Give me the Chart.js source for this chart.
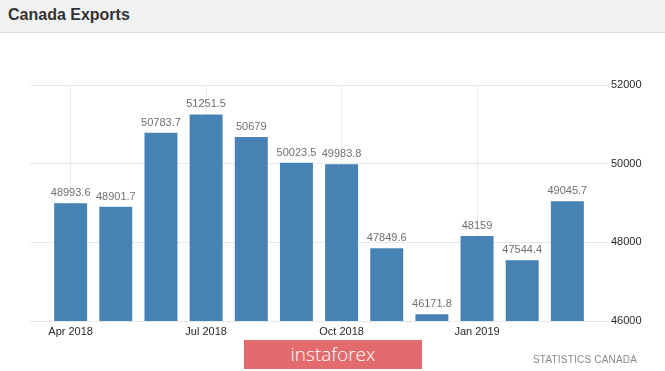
<!DOCTYPE html>
<html>
<head>
<meta charset="utf-8">
<script src="https://cdn.jsdelivr.net/npm/chart.js@4.4.0/dist/chart.umd.min.js"></script>
<style>
  html, body { margin: 0; padding: 0; background: #fff; }
  #wrap { position: relative; width: 665px; height: 371px; overflow: hidden; font-family: "Liberation Sans", Arial, sans-serif; }
  #header {
    position: absolute; left: 0; top: 0; width: 665px; height: 32px;
    background: #f2f2f2; border-bottom: 1px solid #dcdcdc; z-index: 2;
  }
  #header h1 {
    margin: 0; position: absolute; left: 8px; top: 6px;
    font-size: 16px; font-weight: bold; color: #333;
  }
  #chart { position: absolute; left: 0; top: 0; }
  #source {
    position: absolute; left: 533px; top: 354px; font-size: 10px; color: #888; letter-spacing: 0.2px;
  }
  #brand {
    position: absolute; left: 244px; top: 340px; width: 178px; height: 29px;
    background: #e36b6e; color: #fff; text-align: center;
    font-family: "Open Sans", sans-serif; font-weight: 300; font-size: 19px; line-height: 28px; z-index: 2;
  }
</style>
</head>
<body>
<div id="wrap">
  <div id="header"><h1>Canada Exports</h1></div>
  <canvas id="chart" width="665" height="371"></canvas>
  <div id="source">STATISTICS CANADA</div>
  <div id="brand">instaforex</div>
</div>
<script>
const months = ["Apr 2018", "May 2018", "Jun 2018", "Jul 2018", "Aug 2018", "Sep 2018",
  "Oct 2018", "Nov 2018", "Dec 2018", "Jan 2019", "Feb 2019", "Mar 2019"];
const exportsValues = [48993.6, 48901.7, 50783.7, 51251.5, 50679, 50023.5,
  49983.8, 47849.6, 46171.8, 48159, 47544.4, 49045.7];
const tickMonths = ["Apr 2018", "Jul 2018", "Oct 2018", "Jan 2019"];
const yTicks = [46000, 48000, 50000, 52000];

// value labels above each bar
const valueLabels = {
  id: "valueLabels",
  afterDatasetsDraw(chart) {
    const ctx = chart.ctx;
    const meta = chart.getDatasetMeta(0);
    ctx.save();
    ctx.font = "11px 'Liberation Sans', Arial, sans-serif";
    ctx.fillStyle = "#707070";
    ctx.textAlign = "center";
    ctx.textBaseline = "middle";
    meta.data.forEach((bar, i) => {
      ctx.fillText(String(exportsValues[i]), bar.x, bar.y - 10);
    });
    ctx.restore();
  }
};

new Chart(document.getElementById("chart"), {
  type: "bar",
  data: {
    datasets: [{
      data: exportsValues.map((v, i) => ({ x: i, y: v })),
      backgroundColor: "#4682b4",
      borderWidth: 0,
      barPercentage: 0.73,
      categoryPercentage: 1
    }]
  },
  options: {
    responsive: false,
    animation: false,
    layout: { padding: { left: 30, top: 85, right: 0, bottom: 0 } },
    plugins: { legend: { display: false }, tooltip: { enabled: false } },
    scales: {
      x: {
        type: "linear",
        offset: false,
        min: -0.9,
        max: 11.9,
        afterBuildTicks: (scale) => {
          scale.ticks = tickMonths.map((m) => ({ value: months.indexOf(m) }));
        },
        afterFit: (scale) => { scale.height = 50; },
        ticks: {
          callback: (v) => months[v],
          color: "#2a2a2a",
          font: { size: 11, family: "'Liberation Sans', Arial, sans-serif" },
          padding: 4,
          maxRotation: 0,
          autoSkip: false
        },
        grid: { color: "#ececec", drawTicks: false, offset: false },
        border: { display: false }
      },
      y: {
        position: "right",
        min: 46000,
        max: 52000,
        afterBuildTicks: (scale) => {
          scale.ticks = yTicks.map((v) => ({ value: v }));
        },
        afterFit: (scale) => { scale.width = 57; },
        ticks: {
          callback: (v) => String(v),
          color: "#2a2a2a",
          font: { size: 11, family: "'Liberation Sans', Arial, sans-serif" },
          padding: 3
        },
        grid: { color: "#e8e8e8", drawTicks: false },
        border: { display: false }
      }
    }
  },
  plugins: [valueLabels]
});
</script>
</body>
</html>
